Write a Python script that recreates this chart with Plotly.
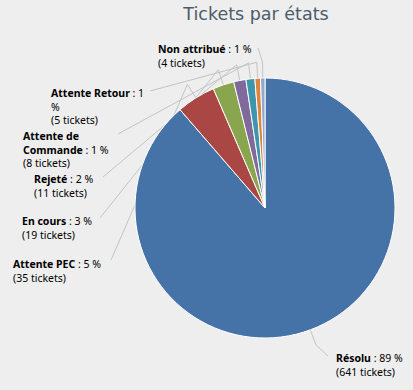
import math
import plotly.graph_objects as go

# ---- data ----
categories = ["Résolu", "Attente PEC", "En cours", "Rejeté",
              "Attente de Commande", "Attente Retour", "Non attribué"]
tickets = [641, 35, 19, 11, 8, 5, 4]
colors = ["#4572A7", "#AA4643", "#89A54E", "#80699B", "#3D96AE", "#DB843D", "#92A8CD"]
title_text = "Tickets par états"

# ---- layout constants (pixels) ----
W, H = 413, 390
CX, CY, R = 265, 208, 130
ELBOW = 16
LABEL_FONT = dict(family="Noto Sans", size=10.5, color="#000000")
# label text: how names are broken on lines (style only)
name_lines = {
    "Attente de Commande": ("Attente de<br>Commande", None),
    "Attente Retour": ("Attente Retour", "1<br>%"),
}
# connector start point (px) and anchor side for each label
label_pos = {
    "Résolu": (328, 356, "left"),
    "Attente PEC": (111, 260, "right"),
    "En cours": (100, 218, "right"),
    "Rejeté": (103, 177, "right"),
    "Attente de Commande": (118, 134, "right"),
    "Attente Retour": (150, 91, "right"),
    "Non attribué": (258, 48, "right"),
}
label_top = {
    "Résolu": 349, "Attente PEC": 255, "En cours": 212, "Rejeté": 170,
    "Attente de Commande": 127, "Attente Retour": 84, "Non attribué": 40,
}
label_right = {
    "Attente PEC": 103, "En cours": 94, "Rejeté": 95,
    "Attente de Commande": 111, "Attente Retour": 146, "Non attribué": 254,
}


def px(x):
    return x / W


def py(y):
    return 1 - y / H


fig = go.Figure()
fig.add_trace(go.Pie(
    labels=categories, values=tickets, sort=False, direction="clockwise",
    rotation=0, marker=dict(colors=colors, line=dict(color="white", width=1)),
    textinfo="none", hoverinfo="none", showlegend=False,
    domain=dict(x=[px(CX - R), px(CX + R)], y=[py(CY + R), py(CY - R)]),
))

total = sum(tickets)
cum = 0
shapes = []
annotations = []
for name, v in zip(categories, tickets):
    mid = (cum + v / 2) / total * 2 * math.pi
    cum += v
    ex, ey = CX + R * math.sin(mid), CY - R * math.cos(mid)
    bx, by = CX + (R + ELBOW) * math.sin(mid), CY - (R + ELBOW) * math.cos(mid)
    lx, ly, side = label_pos[name]
    path = "M {:.4f} {:.4f} L {:.4f} {:.4f} L {:.4f} {:.4f}".format(
        px(lx), py(ly), px(bx), py(by), px(ex), py(ey))
    shapes.append(dict(type="path", path=path, xref="paper", yref="paper",
                       line=dict(color="#c4c4c4", width=1), layer="below"))
    pct = round(v / total * 100)
    disp, pct_break = name_lines.get(name, (name, None))
    if pct_break:
        txt = "<b>{}</b> : {}<br>({} tickets)".format(disp, pct_break, v)
    else:
        txt = "<b>{}</b> : {} %<br>({} tickets)".format(disp, pct, v)
    if side == "left":
        ax, xa = lx + 6, "left"
    else:
        ax, xa = label_right[name], "right"
    annotations.append(dict(
        text=txt, x=px(ax), y=py(label_top[name]), xref="paper", yref="paper",
        xanchor=xa, yanchor="top", align="left", showarrow=False,
        font=LABEL_FONT,
    ))

fig.update_layout(
    width=W, height=H, margin=dict(l=0, r=0, t=0, b=0),
    paper_bgcolor="#eeeeee", plot_bgcolor="#eeeeee",
    title=dict(text=title_text, x=px(256), y=py(14), xanchor="center", yanchor="middle",
               font=dict(family="DejaVu Sans", size=17.5, color="#4d5b6a")),
    shapes=shapes, annotations=annotations,
)

fig.write_html(
    "out.html",
    config={"displayModeBar": False},
    post_script="document.body.style.margin='0';document.body.style.overflow='hidden';"
                "document.body.style.background='#eeeeee';",
)
